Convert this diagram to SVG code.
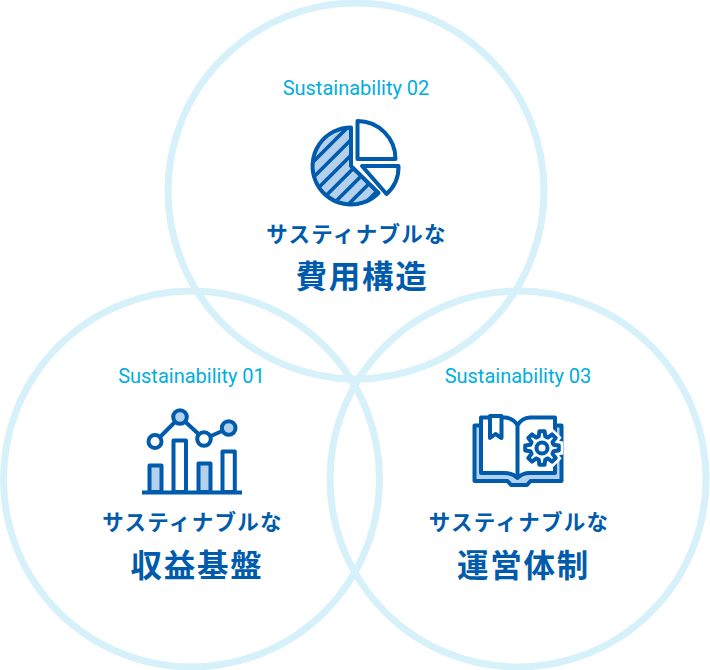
<svg xmlns="http://www.w3.org/2000/svg" width="710" height="670" viewBox="0 0 710 670">
<style>
.ring{fill:none;stroke:#d6f1fa;stroke-width:7}
.s{font-family:Roboto,"Liberation Sans",sans-serif;font-size:20px;fill:#00aedd;text-anchor:middle}
.a{font-family:"Noto Sans CJK JP",sans-serif;font-weight:700;font-size:21.500px;letter-spacing:1.300px;fill:#005bac;text-anchor:middle}
.b{font-family:"Noto Sans CJK JP",sans-serif;font-weight:700;font-size:31.500px;letter-spacing:1.700px;fill:#005bac;text-anchor:middle}
.i{stroke:#005bac;stroke-width:4;stroke-linejoin:round;fill:#fff}
.l{fill:#b3d0ec}
.n{fill:none}
</style>
<defs>
<clipPath id="pc"><path d="M351 127.500A38.500 38.500 0 1 0 378.500 193L351 166Z"/></clipPath>
<path id="gear" d="M11.500-3.300L16.800-2.600V2.600L11.500 3.300L10.460 5.800L13.700 10.040L10.040 13.700L5.800 10.460L3.300 11.500L2.600 16.800H-2.600L-3.300 11.500L-5.800 10.460L-10.040 13.700L-13.700 10.040L-10.460 5.800L-11.500 3.300L-16.800 2.600V-2.600L-11.500-3.300L-10.460-5.800L-13.700-10.040L-10.040-13.700L-5.800-10.460L-3.300-11.500L-2.600-16.800H2.600L3.300-11.500L5.800-10.460L10.040-13.700L13.700-10.040L10.460-5.800Z"/>
</defs>
<g id="connectors"></g>
<g id="node-02">
<circle class="ring" cx="356" cy="191" r="188"/>
<text class="s" x="356" y="94.500">Sustainability 02</text>
<g id="pie">
<path class="i l" d="M351 127.500A38.500 38.500 0 1 0 378.500 193L351 166Z"/>
<g clip-path="url(#pc)" stroke="#005bac" stroke-width="3.600" fill="none">
<path d="M301 174L356 119M301 189.700L356 134.700M301 205.200L356 150.200M301 220.700L361 160.700M310 227.200L371 166.200M326 226.700L387 165.700M342 226.200L403 165.200"/>
</g>
<path class="i" d="M357.500 121A38 38 0 0 1 395.500 159H357.500Z"/>
<path class="i" d="M362 166H398.500A36 36 0 0 1 386.500 194Z"/>
</g>
<text class="a" x="356.500" y="242">サスティナブルな</text>
<text class="b" x="362" y="288">費用構造</text>
</g>
<g id="node-01">
<circle class="ring" cx="191.500" cy="479" r="188"/>
<text class="s" x="191.500" y="382.500">Sustainability 01</text>
<g id="chart">
<path class="i n" d="M155 442L180 417L204 439L229 428"/>
<path class="i l" d="M149.500 492V465.500H161.500V492Z"/>
<path class="i" d="M173.500 492V440.500H186V492Z"/>
<path class="i l" d="M198.500 492V463.500H210.500V492Z"/>
<path class="i" d="M222.500 492V451.500H234.800V492Z"/>
<path class="i n" d="M142 492.500H242"/>
<circle class="i" cx="155" cy="441.500" r="6.500"/>
<circle class="i l" cx="180" cy="417" r="6.800"/>
<circle class="i" cx="204" cy="439" r="6.800"/>
<circle class="i l" cx="228.700" cy="428" r="6.800"/>
</g>
<text class="a" x="192.500" y="530">サスティナブルな</text>
<text class="b" x="197" y="577">収益基盤</text>
</g>
<g id="node-03">
<circle class="ring" cx="518" cy="479" r="188"/>
<text class="s" x="518" y="382.500">Sustainability 03</text>
<g id="book">
<path class="i l" d="M480 425.500H474.500V481H507.500L511 485H527L530.500 481H561.500V425.500H555Z"/>
<path class="i" d="M481 417.500H505Q513 418 517.500 425Q522 418 530 417.500H555V473H530Q522 473 517.500 478Q513 473 505 473H481Z"/>
<path class="i n" d="M517.500 425V478"/>
<path class="i" d="M490 416V438L495.500 434L501.500 438V416Z"/>
<use href="#gear" transform="translate(542 448)" fill="#fff" stroke="#fff" stroke-width="9"/>
<use href="#gear" transform="translate(542 448)" class="i"/>
<circle class="i" cx="542" cy="448" r="5.500"/>
</g>
<text class="a" x="519" y="530">サスティナブルな</text>
<text class="b" x="523.500" y="577">運営体制</text>
</g>
</svg>
